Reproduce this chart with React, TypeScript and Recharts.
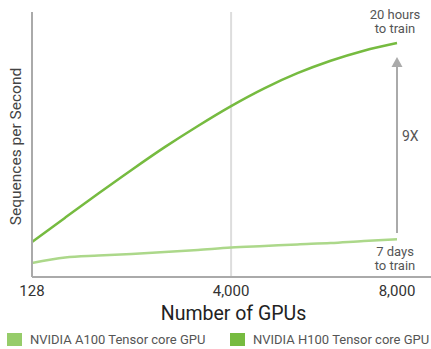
import React from "react";
import { LineChart, Line, XAxis, YAxis, ReferenceLine, ReferenceDot } from "recharts";

const gpuLabels = ["128", "512", "1,024", "1,536", "2,048", "3,000", "4,000", "4,800", "5,600", "6,400", "7,200", "8,000"];
const a100Values = [5.3, 7.4, 8.1, 8.7, 9.4, 10.2, 11.1, 11.7, 12.3, 12.8, 13.6, 14.2];
const h100Values = [13.2, 22.4, 31.5, 40.4, 49.0, 57.0, 64.5, 71.2, 76.9, 81.6, 85.4, 88.3];
const xTicks = ["128", "4,000", "8,000"];
const seriesNames = ["NVIDIA A100 Tensor core GPU", "NVIDIA H100 Tensor core GPU"];
const seriesColors = ["#96cc6a", "#76bb40"];
const lineColors = ["#acd88a", "#76bb40"];
const arrowRange = [16.6, 79.6];

const FONT = "Roboto, 'Open Sans', sans-serif";
const data = gpuLabels.map((gpus, i) => ({ gpus, a100: a100Values[i], h100: h100Values[i] }));

const NoteText = ({ cx, cy, lines, dy }: { cx: number; cy: number; lines: string[]; dy: number[] }) => (
  <g>
    {lines.map((t, i) => (
      <text key={t} x={cx - 2} y={cy + dy[i]} textAnchor="middle" fontSize={13} fill="#555" fontFamily={FONT}>
        {t}
      </text>
    ))}
  </g>
);

export default function App() {
  const last = gpuLabels[gpuLabels.length - 1];
  return (
    <div style={{ position: "absolute", left: 0, top: 0, width: 431, height: 349, background: "#fff" }}>
      <LineChart width={431} height={349} data={data} margin={{ top: 12, right: 0, left: 0, bottom: 29 }}>
        <XAxis
          dataKey="gpus"
          type="category"
          ticks={xTicks}
          interval={0}
          height={43}
          padding={{ left: 0, right: 34 }}
          axisLine={{ stroke: "#aaa", strokeWidth: 2 }}
          tickLine={false}
          tick={{ fontSize: 15, fill: "#333", fontFamily: FONT }}
          label={{ value: "Number of GPUs", position: "insideBottom", offset: 0, dx: 2, fontSize: 19.5, fill: "#222", fontFamily: FONT }}
        />
        <YAxis
          domain={[0, 100]}
          width={32}
          tick={false}
          tickLine={false}
          axisLine={{ stroke: "#aaa", strokeWidth: 2 }}
          label={{ value: "Sequences per Second", angle: -90, position: "center", dx: -1, dy: 2, fontSize: 15.5, fill: "#444", fontFamily: FONT }}
        />
        <ReferenceLine x="4,000" stroke="#ddd" strokeWidth={2} />
        <ReferenceLine
          segment={[{ x: last, y: arrowRange[0] }, { x: last, y: arrowRange[1] }]}
          stroke="#aaa"
          strokeWidth={2}
        />
        <ReferenceDot
          x={last}
          y={arrowRange[1]}
          r={0}
          shape={(p: any) => (
            <g>
              <polygon points={`${p.cx},${p.cy - 9} ${p.cx - 5.5},${p.cy + 1} ${p.cx + 5.5},${p.cy + 1}`} fill="#aaa" />
              <text x={p.cx + 5} y={p.cy + 75} fontSize={14} fill="#555" fontFamily={FONT}>9X</text>
            </g>
          )}
        />
        <Line type="monotone" dataKey="a100" stroke={lineColors[0]} strokeWidth={2.5} dot={false} isAnimationActive={false} />
        <Line type="monotone" dataKey="h100" stroke={lineColors[1]} strokeWidth={2.5} dot={false} isAnimationActive={false} />
        <ReferenceDot
          x={last}
          y={h100Values[h100Values.length - 1]}
          r={0}
          shape={(p: any) => <NoteText cx={p.cx} cy={p.cy} lines={["20 hours", "to train"]} dy={[-24, -10]} />}
        />
        <ReferenceDot
          x={last}
          y={a100Values[a100Values.length - 1]}
          r={0}
          shape={(p: any) => <NoteText cx={p.cx} cy={p.cy} lines={["7 days", "to train"]} dy={[16.5, 31]} />}
        />
      </LineChart>
      {seriesNames.map((name, i) => (
        <div
          key={name}
          style={{
            position: "absolute",
            top: 332,
            left: i === 0 ? 7 : 230,
            display: "flex",
            alignItems: "center",
            fontFamily: FONT,
            fontSize: 13,
            color: "#555",
            whiteSpace: "nowrap",
          }}
        >
          <span style={{ width: 15, height: 13, background: seriesColors[i], marginRight: 8, display: "inline-block" }} />
          <span>{name}</span>
        </div>
      ))}
    </div>
  );
}
